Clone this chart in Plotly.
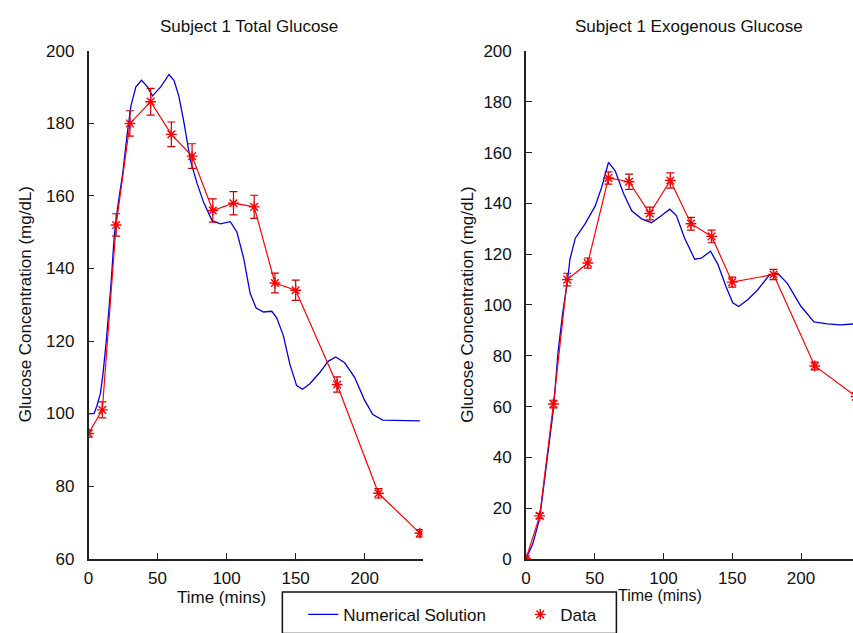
import plotly.graph_objects as go

W, H = 853, 633

# ---- data: Subject 1 Total Glucose ----
t_data = [0, 10, 20, 30, 45, 60, 75, 90, 105, 120, 135, 150, 180, 210, 240]
total_data = [94.5, 101, 152, 180, 186, 177, 171, 156, 158, 157, 136, 134, 108, 78, 67]
total_err = [1.0, 2.2, 3.1, 3.5, 3.7, 3.4, 3.4, 3.2, 3.2, 3.2, 2.7, 2.8, 2.1, 1.3, 1.0]

t_model_total = [0, 4, 6, 8.6, 10.5, 12.7, 16.3, 18.7, 21.5, 24.7, 28, 30.7, 34.3, 38.4,
                 42.7, 46.3, 52.3, 58.3, 61.9, 65.5, 69.1, 73.9, 78.7, 83.5, 89.5, 95.5,
                 102.7, 107.5, 112.3, 117.1, 121.4, 126.7, 132.7, 136.3, 141.1, 145.9,
                 150.7, 155, 160.3, 167.5, 173.5, 179, 185.5, 192.7, 199.9, 205.9, 213.1, 240]
total_model = [100, 100, 102, 105.5, 111, 119.3, 135.8, 149.2, 158, 166, 177, 184.8, 190.1, 191.9,
               190.1, 187.6, 190.1, 193.5, 191.9, 187.4, 180.3, 169.6, 163.4, 158.1, 153.2, 152.3,
               152.9, 150, 142.9, 133.1, 129.1, 128, 128.2, 126.4, 121.5, 113.5,
               107.7, 106.7, 108.2, 111.3, 114.4, 115.6, 114, 110, 103.7, 99.7, 98.2, 98]

# ---- data: Subject 1 Exogenous Glucose ----
exo_data = [0, 17, 61, 110, 116.5, 150, 148.5, 136, 149, 132, 127, 109, 112, 76, 64]
exo_err = [0.5, 1.0, 1.5, 2.5, 2.0, 2.4, 3.0, 2.5, 3.0, 2.5, 2.5, 2.0, 2.0, 1.5, 1.5]

t_model_exo = [0, 5, 10, 15, 20, 23.4, 27, 30, 32, 35.9, 43.1, 50.4, 55.2, 60, 64.8, 70.9,
               76.9, 84.1, 91.3, 98.6, 104.6, 109.4, 115.4, 122.7, 127.5, 134.2, 139.5,
               145.5, 150.4, 154.7, 161.2, 168.4, 176.8, 182.9, 190.1, 199.8, 209.4,
               219.1, 228.7, 240]
exo_model = [0, 6, 16, 37, 59, 81.8, 98, 108.5, 118, 126.3, 132, 139, 146.6, 156.1, 152.9, 144,
             137.1, 133.9, 132.4, 135.2, 137.7, 135.2, 126.3, 118, 118.4, 121.2, 116.1,
             107.2, 100.9, 99.4, 102.1, 105.9, 111.7, 112.5, 108.5, 99.6, 93.3,
             92.6, 92.2, 92.6]

titles = ["Subject 1 Total Glucose", "Subject 1 Exogenous Glucose"]
ylabel = "Glucose Concentration (mg/dL)"
xlabel = "Time (mins)"

BLUE = "#0000e6"
RED = "#ff0000"
ERR = "#cc0000"
FONT = "Liberation Sans, Arial, sans-serif"

fig = go.Figure()

def px_x(p):
    return p / W

def px_y(p):
    return 1 - p / H

for i, (tm, ym, yd, ye) in enumerate([
        (t_model_total, total_model, total_data, total_err),
        (t_model_exo, exo_model, exo_data, exo_err)]):
    xa = "x" if i == 0 else "x2"
    ya = "y" if i == 0 else "y2"
    fig.add_trace(go.Scatter(x=tm, y=ym, mode="lines", xaxis=xa, yaxis=ya,
                             line=dict(color=BLUE, width=1.3), showlegend=False))
    fig.add_trace(go.Scatter(x=t_data, y=yd, mode="lines+markers", xaxis=xa, yaxis=ya,
                             line=dict(color=RED, width=1.2),
                             marker=dict(symbol="asterisk-open", size=9, color=RED,
                                         line=dict(color=RED, width=1.4)),
                             error_y=dict(type="data", array=ye, color=ERR,
                                          thickness=1.2, width=4),
                             showlegend=False))

# legend-only traces
fig.add_trace(go.Scatter(x=[None], y=[None], mode="lines", name="Numerical Solution",
                         line=dict(color=BLUE, width=1.3)))
fig.add_trace(go.Scatter(x=[None], y=[None], mode="markers", name="Data",
                         marker=dict(symbol="asterisk-open", size=9, color=RED,
                                     line=dict(color=RED, width=1.4))))

axis_common = dict(showline=True, linecolor="#222", linewidth=1.5, ticks="inside",
                   ticklen=6, tickcolor="#222", tickwidth=1.2, showgrid=False,
                   zeroline=False, tickfont=dict(family=FONT, size=17, color="#111"),
                   mirror=False)

ytop, ybot = 43.3, 567.5
fig.update_layout(
    width=W, height=H,
    margin=dict(l=0, r=0, t=0, b=0),
    paper_bgcolor="white", plot_bgcolor="white",
    xaxis=dict(domain=[px_x(84), px_x(420)], range=[0, 241.9], anchor="y",
               tickvals=[0, 50, 100, 150, 200], ticklabelstandoff=3, **axis_common),
    yaxis=dict(domain=[px_y(ybot), px_y(ytop)], range=[60, 200], anchor="x",
               tickvals=[60, 80, 100, 120, 140, 160, 180, 200], ticklabelstandoff=9,
               **axis_common),
    xaxis2=dict(domain=[px_x(524), 1.0], range=[0, (W - 524) / 1.3835], anchor="y2",
                tickvals=[0, 50, 100, 150, 200], ticklabelstandoff=3, **axis_common),
    yaxis2=dict(domain=[px_y(568), px_y(ytop)], range=[0, 200], anchor="x2",
                tickvals=[0, 20, 40, 60, 80, 100, 120, 140, 160, 180, 200],
                ticklabelstandoff=9, **axis_common),
    showlegend=True,
    legend=dict(orientation="h", x=px_x(300), xanchor="left", y=px_y(607), yanchor="top",
                font=dict(family=FONT, size=17, color="#111"),
                bgcolor="rgba(0,0,0,0)", borderwidth=0,
                entrywidth=172, entrywidthmode="pixels"),
)

# legend box
fig.add_shape(type="rect", xref="paper", yref="paper",
              x0=px_x(279), x1=px_x(615), y0=px_y(645), y1=px_y(602),
              line=dict(color="#111", width=1.5), fillcolor="rgba(0,0,0,0)")

ann = []
for x, y, txt in [(245, 18, titles[0]), (688, 18, titles[1])]:
    ann.append(dict(x=px_x(x), y=px_y(y), text=txt, showarrow=False, xref="paper", yref="paper",
                    xanchor="center", yanchor="middle", font=dict(family=FONT, size=17, color="#111")))
for x, y, fs in [(218, 608, 17), (659, 606, 16)]:
    ann.append(dict(x=px_x(x), y=px_y(y), text=xlabel, showarrow=False, xref="paper", yref="paper",
                    xanchor="center", yanchor="middle", font=dict(family=FONT, size=fs, color="#111")))
for x, y in [(20, 305), (465, 305)]:
    ann.append(dict(x=px_x(x), y=px_y(y), text=ylabel, showarrow=False, xref="paper", yref="paper",
                    xanchor="center", yanchor="middle", textangle=-90,
                    font=dict(family=FONT, size=17, color="#111")))
fig.update_layout(annotations=ann)

fig.write_html("out.html")
